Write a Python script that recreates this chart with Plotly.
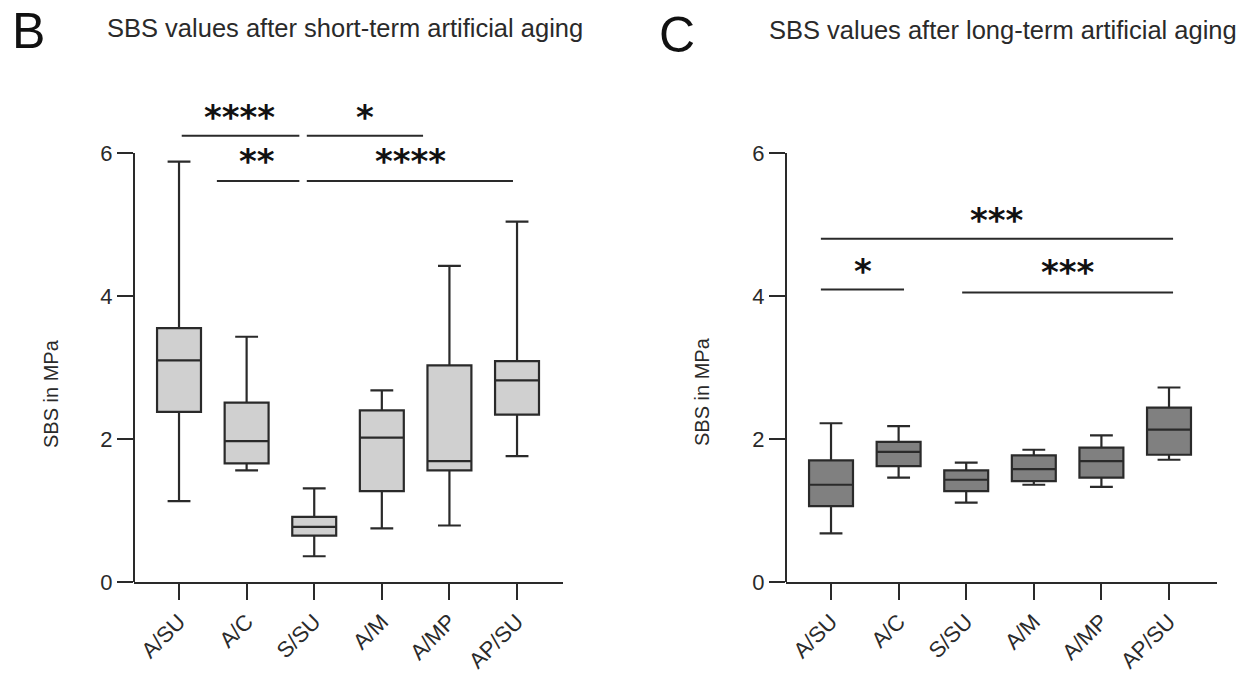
import plotly.graph_objects as go

categories = ["A/SU", "A/C", "S/SU", "A/M", "A/MP", "AP/SU"]

# Short-term aging (panel B)
short_low = [1.13, 1.56, 0.36, 0.75, 0.79, 1.76]
short_q1 = [2.38, 1.66, 0.65, 1.27, 1.56, 2.34]
short_med = [3.10, 1.97, 0.77, 2.02, 1.69, 2.82]
short_q3 = [3.55, 2.51, 0.91, 2.40, 3.03, 3.09]
short_high = [5.88, 3.43, 1.31, 2.68, 4.42, 5.04]

# Long-term aging (panel C)
long_low = [0.68, 1.46, 1.11, 1.36, 1.33, 1.71]
long_q1 = [1.06, 1.62, 1.27, 1.41, 1.46, 1.78]
long_med = [1.36, 1.82, 1.43, 1.58, 1.69, 2.13]
long_q3 = [1.70, 1.96, 1.56, 1.77, 1.88, 2.44]
long_high = [2.22, 2.18, 1.67, 1.85, 2.05, 2.72]

yticks = [0, 2, 4, 6]

# significance brackets: (x0, x1, y, label, label_x, label_y)
short_sig = [
    (0.04, 1.78, 6.24, "****", 0.90, 6.56),
    (1.89, 3.61, 6.24, "*", 2.75, 6.56),
    (0.56, 1.78, 5.61, "**", 1.15, 5.94),
    (1.89, 4.94, 5.61, "****", 3.43, 5.94),
]
long_sig = [
    (-0.15, 5.06, 4.80, "***", 2.46, 5.12),
    (-0.15, 1.08, 4.09, "*", 0.47, 4.41),
    (1.94, 5.06, 4.05, "***", 3.50, 4.39),
]

FONT = "Liberation Sans"
DARK = "#2a2a2a"
idx = list(range(len(categories)))

fig = go.Figure()

def add_box(low, q1, med, q3, high, fill, xa, ya):
    fig.add_trace(go.Box(
        x=idx, q1=q1, median=med, q3=q3, lowerfence=low, upperfence=high,
        fillcolor=fill, line=dict(color=DARK, width=2.2),
        width=0.65, whiskerwidth=0.52, boxpoints=False,
        showlegend=False, hoverinfo="skip", xaxis=xa, yaxis=ya,
    ))

add_box(short_low, short_q1, short_med, short_q3, short_high, "#d0d0d0", "x", "y")
add_box(long_low, long_q1, long_med, long_q3, long_high, "#808080", "x2", "y2")

W, H = 1246, 675
ydom = [1 - 582 / H, 1 - 45.75 / H]

axis_common = dict(
    showgrid=False, zeroline=False, ticks="outside", ticklen=16, tickwidth=2,
    tickcolor=DARK, linecolor=DARK, linewidth=2, automargin=False,
    tickfont=dict(family=FONT, size=22, color=DARK),
)

fig.update_layout(
    width=W, height=H, margin=dict(l=0, r=0, t=0, b=0, autoexpand=False),
    paper_bgcolor="white", plot_bgcolor="white",
    xaxis=dict(domain=[134 / W, 563 / W], range=[-0.666, 5.68],
               tickvals=idx, ticktext=categories, tickangle=-45,
               showline=True, anchor="y", **axis_common),
    yaxis=dict(domain=ydom, range=[0, 7.5], tickvals=yticks,
               showline=False, anchor="x", **axis_common),
    xaxis2=dict(domain=[786 / W, 1217 / W], range=[-0.666, 5.71],
                tickvals=idx, ticktext=categories, tickangle=-45,
                showline=True, anchor="y2", **axis_common),
    yaxis2=dict(domain=ydom, range=[0, 7.5], tickvals=yticks,
                showline=False, anchor="x2", **axis_common),
)

shapes = []
annotations = []
for xa, ya in (("x", "y"), ("x2", "y2")):
    shapes.append(dict(type="line", xref=xa + " domain", yref=ya,
                       x0=0, x1=0, y0=0, y1=6,
                       line=dict(color=DARK, width=2)))

for sigs, xa, ya in ((short_sig, "x", "y"), (long_sig, "x2", "y2")):
    for x0, x1, y, lab, lx, ly in sigs:
        shapes.append(dict(type="line", xref=xa, yref=ya, x0=x0, x1=x1,
                           y0=y, y1=y, line=dict(color=DARK, width=2)))
        annotations.append(dict(xref=xa, yref=ya, x=lx, y=ly, text="<b>%s</b>" % lab,
                                showarrow=False, yshift=-4,
                                font=dict(family="DejaVu Sans", size=34, color="#111")))

# y axis titles
annotations.append(dict(xref="paper", yref="paper", x=51 / W, y=1 - 394 / H,
                        xanchor="center", yanchor="middle",
                        text="SBS in MPa", textangle=-90, showarrow=False,
                        font=dict(family=FONT, size=20, color=DARK)))
annotations.append(dict(xref="paper", yref="paper", x=702 / W, y=1 - 392 / H,
                        xanchor="center", yanchor="middle",
                        text="SBS in MPa", textangle=-90, showarrow=False,
                        font=dict(family=FONT, size=20, color=DARK)))

# panel titles
annotations.append(dict(xref="paper", yref="paper", x=105 / W, y=1 - 28 / H,
                        xanchor="left", yanchor="middle",
                        text="SBS values after short-term artificial aging",
                        showarrow=False, font=dict(family=FONT, size=25.5, color=DARK)))
annotations.append(dict(xref="paper", yref="paper", x=767 / W, y=1 - 30 / H,
                        xanchor="left", yanchor="middle",
                        text="SBS values after long-term artificial aging",
                        showarrow=False, font=dict(family=FONT, size=25.5, color=DARK)))
annotations.append(dict(xref="paper", yref="paper", x=10 / W, y=1 - 31 / H,
                        xanchor="left", yanchor="middle", text="B", showarrow=False,
                        font=dict(family=FONT, size=50, color="#111")))
annotations.append(dict(xref="paper", yref="paper", x=657 / W, y=1 - 35 / H,
                        xanchor="left", yanchor="middle", text="C", showarrow=False,
                        font=dict(family=FONT, size=50, color="#111")))

fig.update_layout(shapes=shapes, annotations=annotations)
fig.write_html("out.html", config={"displayModeBar": False},
               post_script="document.body.style.margin='0';document.body.style.overflow='hidden';")
